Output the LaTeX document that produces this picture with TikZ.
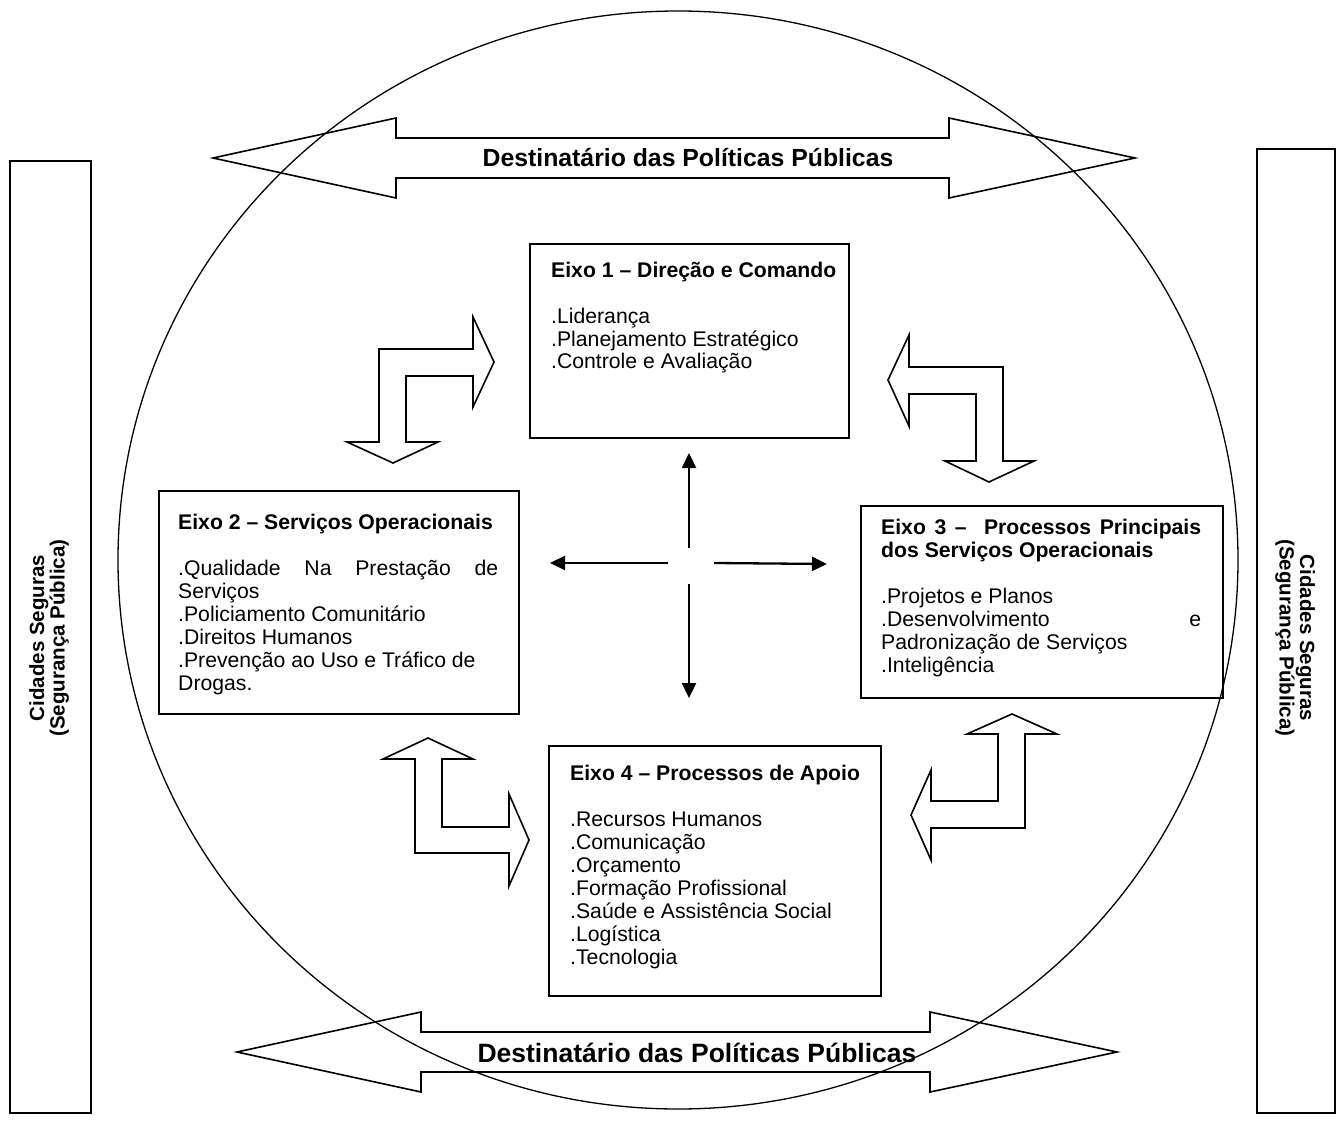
\documentclass[tikz,border=0pt]{standalone}
\usepackage{fontspec}
\setmainfont{Liberation Sans}
\usetikzlibrary{arrows.meta}
\begin{document}
\begin{tikzpicture}[x=1pt,y=-1pt,
  frame/.style={draw, line width=1.7pt, inner sep=0pt, anchor=north west},
  blockarrow/.style={draw, line width=1.6pt, line join=miter},
  ring/.style={draw, line width=1.3pt},
  bodytext/.style={anchor=base west, inner sep=0pt, font=\fontsize{21.2}{23}\selectfont},
  sidetext/.style={inner sep=0pt, align=center, font=\bfseries\fontsize{20.5}{20.5}\selectfont},
  bigtext/.style={inner sep=0pt, font=\bfseries\fontsize{24.8}{28}\selectfont},
  cross/.style={line width=2.3pt, -{Triangle[length=15pt,width=14pt]}},
]
\useasboundingbox (0,0) rectangle (1339,1126);
% big ellipse
\draw[ring] (678,560) ellipse [x radius=560, y radius=549];
% side boxes
\node[frame, minimum width=81pt, minimum height=952pt] (sideL) at (9,160) {};
\node[frame, minimum width=78pt, minimum height=964pt] (sideR) at (1256,148) {};
\node[sidetext, rotate=90] (sideLt) at (49,638) {Cidades Seguras\\(Segurança Pública)};
\node[sidetext, rotate=-90] (sideRt) at (1295,638) {Cidades Seguras\\(Segurança Pública)};
% top double arrow
\draw[blockarrow] (213,158) -- (396,118) -- (396,138) -- (949,138) -- (949,118) -- (1135,158)
  -- (949,198) -- (949,178) -- (396,178) -- (396,198) -- cycle;
\node[bigtext] (dtop) at (688,158) {Destinatário das Políticas Públicas};
% bottom double arrow
\draw[blockarrow] (237,1052) -- (421,1012) -- (421,1032) -- (930,1032) -- (930,1012) -- (1117,1052)
  -- (930,1092) -- (930,1072) -- (421,1072) -- (421,1092) -- cycle;
\node[bigtext, font=\bfseries\fontsize{26.5}{30}\selectfont] (dbot) at (697,1053) {Destinatário das Políticas Públicas};
% boxes
\node[frame, minimum width=319pt, minimum height=194pt] (b1) at (529,243) {};
\node[frame, minimum width=360pt, minimum height=223pt] (b2) at (158,490) {};
\node[frame, minimum width=362pt, minimum height=192pt] (b3) at (860,505) {};
\node[frame, minimum width=332pt, minimum height=250pt] (b4) at (548,745) {};
% box texts
\node[bodytext] (t1) at (551,277) {\vtop{\hbox{\bfseries Eixo 1 – Direção e Comando}\hbox{}\hbox{.Liderança}\hbox{.Planejamento Estratégico}\hbox{.Controle e Avaliação}}};
\node[bodytext] (t2) at (178,529) {\vtop{\hbox{\bfseries Eixo 2 – Serviços Operacionais}\hbox{}\hbox to 320pt{.Qualidade Na Prestação de}\hbox{Serviços}\hbox{.Policiamento Comunitário}\hbox{.Direitos Humanos}\hbox{.Prevenção ao Uso e Tráfico de}\hbox{Drogas.}}};
\node[bodytext] (t3) at (881,534) {\vtop{\hbox to 320pt{\bfseries Eixo 3 –\ \ Processos Principais}\hbox{\bfseries dos Serviços Operacionais}\hbox{}\hbox{.Projetos e Planos}\hbox to 320pt{.Desenvolvimento\hfill e}\hbox{Padronização de Serviços}\hbox{.Inteligência}}};
\node[bodytext] (t4) at (570,780) {\vtop{\hbox{\bfseries Eixo 4 – Processos de Apoio}\hbox{}\hbox{.Recursos Humanos}\hbox{.Comunicação}\hbox{.Orçamento}\hbox{.Formação Profissional}\hbox{.Saúde e Assistência Social}\hbox{.Logística}\hbox{.Tecnologia}}};
% bent block arrows
\draw[blockarrow] (393,463) -- (438,442) -- (406,442) -- (406,376) -- (473,376) -- (473,407) -- (494,362)
  -- (473,317) -- (473,349) -- (379,349) -- (379,442) -- (347,442) -- cycle;
\draw[blockarrow] (888,380) -- (909,335) -- (909,367) -- (1003,367) -- (1003,461) -- (1034,461) -- (989,482)
  -- (945,461) -- (976,461) -- (976,394) -- (909,394) -- (909,426) -- cycle;
\draw[blockarrow] (428,738) -- (473,759) -- (442,759) -- (442,827) -- (509,827) -- (509,794) -- (529,840)
  -- (509,886) -- (509,853) -- (415,853) -- (415,759) -- (383,759) -- cycle;
\draw[blockarrow] (1012,714) -- (1057,734) -- (1025,734) -- (1025,828) -- (931,828) -- (931,860) -- (911,815)
  -- (931,770) -- (931,801) -- (998,801) -- (998,734) -- (967,734) -- cycle;
% centre cross arrows
\coordinate (cuS) at (689,548); \coordinate (cuE) at (689,453);
\coordinate (cdS) at (689,584); \coordinate (cdE) at (689,698);
\coordinate (clS) at (668,563); \coordinate (clE) at (550,563);
\coordinate (crS) at (714,563); \coordinate (crE) at (827,564);
\draw[cross] (cuS) -- (cuE);
\draw[cross] (cdS) -- (cdE);
\draw[cross] (clS) -- (clE);
\draw[cross] (crS) -- (crE);
\end{tikzpicture}
\end{document}
